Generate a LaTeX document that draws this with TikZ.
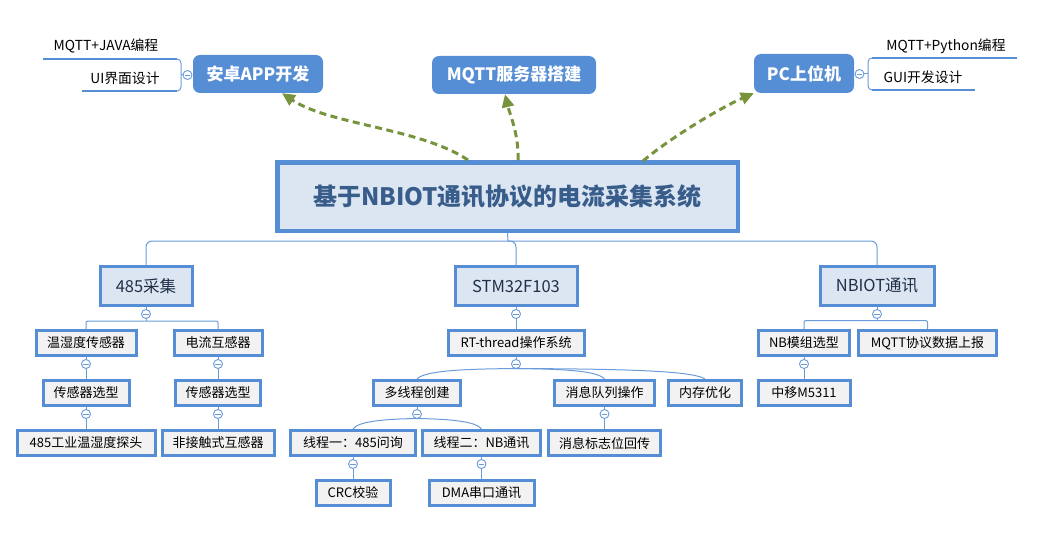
\documentclass[tikz,border=0pt]{standalone}
\usepackage{fontspec}
\setmainfont{Noto Sans CJK SC}
\usetikzlibrary{arrows.meta,calc}
\definecolor{frame}{HTML}{558ED5}
\definecolor{linkblue}{HTML}{6A9BDA}
\definecolor{topicfill}{HTML}{DCE6F2}
\definecolor{leaffill}{HTML}{F2F2F2}
\definecolor{topictext}{HTML}{385D8A}
\definecolor{maintext}{HTML}{1F2F46}
\definecolor{flowgreen}{HTML}{77933C}
\begin{document}
\begin{tikzpicture}[x=1pt,y=-1pt,
  topic/.style={draw=frame, line width=4.5pt, fill=topicfill, text=topictext,
    font=\fontsize{24}{29}\selectfont\bfseries, inner sep=0pt,
    minimum width=460.5pt, minimum height=68.5pt},
  mainbox/.style={draw=frame, line width=3pt, fill=topicfill, text=maintext,
    font=\fontsize{16.5}{20}\selectfont, inner sep=0pt, minimum height=39pt},
  leaf/.style={draw=frame, line width=3pt, fill=leaffill, text=black,
    font=\fontsize{13}{16}\selectfont, inner sep=0pt, minimum height=25pt},
  floatbox/.style={fill=frame, rounded corners=7pt, text=white,
    font=\fontsize{17}{20}\selectfont\bfseries, inner sep=0pt, minimum height=38pt},
  notetext/.style={text=black, font=\fontsize{13.8}{16}\selectfont, inner sep=0pt},
  conn/.style={draw=linkblue, line width=1pt},
  uline/.style={draw=frame, line width=2.5pt},
  coll/.style={circle, draw=linkblue, fill=white, line width=0.9pt,
    minimum size=9pt, inner sep=0pt, outer sep=0pt,
    path picture={\draw[linkblue, line width=0.9pt]
      ([xshift=-2.6pt]path picture bounding box.center) --
      ([xshift=2.6pt]path picture bounding box.center);}},
  flow/.style={draw=flowgreen, line width=3pt, dash pattern=on 7pt off 4.5pt,
    -{Triangle[length=13pt,width=12pt]}}
]
\useasboundingbox (0,0) rectangle (1037,535);

% central topic
\node[topic] (title) at (507.5,196.5) {基于NBIOT通讯协议的电流采集系统};

% floating topics
\node[floatbox, minimum width=130pt] (app) at (258,74) {安卓APP开发};
\node[floatbox, minimum width=164pt] (mqtt) at (514,75) {MQTT服务器搭建};
\node[floatbox, minimum width=100pt, minimum height=39pt] (pc) at (804,73.5) {PC上位机};

% main branches
\node[mainbox, minimum width=92pt] (m485) at (146,286) {485采集};
\node[mainbox, minimum width=122pt] (stm) at (516,286) {STM32F103};
\node[mainbox, minimum width=114pt] (nb) at (877,286) {NBIOT通讯};

% 485 branch
\node[leaf, minimum width=100pt] (wsd) at (86,343) {温湿度传感器};
\node[leaf, minimum width=88pt] (dlh) at (218,343) {电流互感器};
\node[leaf, minimum width=86pt] (selA) at (86,393) {传感器选型};
\node[leaf, minimum width=85pt] (selB) at (218,393) {传感器选型};
\node[leaf, minimum width=138pt] (probe) at (86,443) {485工业温湿度探头};
\node[leaf, minimum width=112pt] (ct) at (218,443) {非接触式互感器};

% STM32 branch
\node[leaf, minimum width=136pt] (rtt) at (516,343) {RT-thread操作系统};
\node[leaf, minimum width=87pt] (mth) at (417,393) {多线程创建};
\node[leaf, minimum width=100pt] (mq) at (604.5,393) {消息队列操作};
\node[leaf, minimum width=73pt] (mem) at (705,393) {内存优化};
\node[leaf, minimum width=125pt] (th1) at (353,443) {线程一：485问询};
\node[leaf, minimum width=118pt] (th2) at (481.5,443) {线程二：NB通讯};
\node[leaf, minimum width=112pt] (flag) at (604.5,443) {消息标志位回传};
\node[leaf, minimum width=74pt] (crc) at (353,493) {CRC校验};
\node[leaf, minimum width=105pt] (dma) at (481.5,493) {DMA串口通讯};

% NBIOT branch
\node[leaf, minimum width=91pt] (nbsel) at (804,343) {NB模组选型};
\node[leaf, minimum width=138pt] (report) at (927.5,343) {MQTT协议数据上报};
\node[leaf, minimum width=92pt] (m5311) at (804,393) {中移M5311};

% trunk from the central topic
\coordinate (trunk) at (508,241);
\draw[conn] (title.south) -- (trunk);
\draw[conn, rounded corners=6pt] (m485.north) |- (trunk) -| (nb.north);
\draw[conn, rounded corners=6pt] (trunk) -| (stm.north);

% collapse markers
\node[coll] (c485) at (146,314) {};
\node[coll] (cstm) at (516,314) {};
\node[coll] (cnb) at (877,314) {};
\node[coll] (cwsd) at (86,364) {};
\node[coll] (cdlh) at (218,364) {};
\node[coll] (cselA) at (86,414) {};
\node[coll] (cselB) at (218,414) {};
\node[coll] (crtt) at (516,364) {};
\node[coll] (cmth) at (417,414) {};
\node[coll] (cmq) at (604.5,414) {};
\node[coll] (cth1) at (353,464) {};
\node[coll] (cth2) at (481.5,464) {};
\node[coll] (cnbsel) at (804,364) {};
\node[coll] (capp) at (187.5,75) {};
\node[coll] (cpc) at (859.5,74) {};

% 485 branch connectors
\draw[conn] (m485.south) -- (c485.north);
\draw[conn] (c485.south) -- ++(0,2.5) coordinate (b485);
\draw[conn, rounded corners=2pt] (wsd.north) |- (b485) -| (dlh.north);
\draw[conn] (wsd.south) -- (cwsd.north);
\draw[conn] (cwsd.south) -- (selA.north);
\draw[conn] (dlh.south) -- (cdlh.north);
\draw[conn] (cdlh.south) -- (selB.north);
\draw[conn] (selA.south) -- (cselA.north);
\draw[conn] (cselA.south) -- (probe.north);
\draw[conn] (selB.south) -- (cselB.north);
\draw[conn] (cselB.south) -- (ct.north);

% STM32 branch connectors
\draw[conn] (stm.south) -- (cstm.north);
\draw[conn] (cstm.south) -- (rtt.north);
\draw[conn] (rtt.south) -- (crtt.north);
\draw[conn] (crtt.south) .. controls (470,369) and (425,370) .. (mth.north);
\draw[conn] (crtt.south) .. controls (565,369) and (598,371) .. (mq.north);
\draw[conn] (crtt.south) .. controls (610,369) and (692,370) .. (mem.north);
\draw[conn] (mth.south) -- (cmth.north);
\draw[conn] (cmth.south) .. controls (387,419) and (358,421) .. (th1.north);
\draw[conn] (cmth.south) .. controls (447,419) and (476,421) .. (th2.north);
\draw[conn] (mq.south) -- (cmq.north);
\draw[conn] (cmq.south) -- (flag.north);
\draw[conn] (th1.south) -- (cth1.north);
\draw[conn] (cth1.south) -- (crc.north);
\draw[conn] (th2.south) -- (cth2.north);
\draw[conn] (cth2.south) -- (dma.north);

% NBIOT branch connectors
\draw[conn] (nb.south) -- (cnb.north);
\draw[conn] (cnb.south) -- ++(0,2) coordinate (bnb);
\draw[conn, rounded corners=2pt] (nbsel.north) |- (bnb) -| (report.north);
\draw[conn] (nbsel.south) -- (cnbsel.north);
\draw[conn] (cnbsel.south) -- (m5311.north);

% notes beside the Android app topic
\node[notetext] (java) at (106,46) {MQTT+JAVA编程};
\node[notetext] (ui) at (125,78) {UI界面设计};
\coordinate (javaL) at (43,59);
\coordinate (javaR) at (177,59);
\coordinate (uiL) at (82,91);
\coordinate (uiR) at (177,91);
\draw[uline] (javaL) -- (javaR);
\draw[uline] (uiL) -- (uiR);
\draw[conn, rounded corners=4pt] (javaR) -- (181,59) -- (181,91) -- (uiR);
\draw[conn] (capp.west) -- (181,75);

% notes beside the PC topic
\node[notetext] (py) at (946,46) {MQTT+Python编程};
\node[notetext] (gui) at (923,77) {GUI开发设计};
\coordinate (pyL) at (872,58);
\coordinate (pyR) at (1017,58);
\coordinate (guiL) at (872,90);
\coordinate (guiR) at (975,90);
\draw[uline] (pyL) -- (pyR);
\draw[uline] (guiL) -- (guiR);
\draw[conn, rounded corners=4pt] (pyL) -- (868,58) -- (868,90) -- (guiL);
\draw[conn] (cpc.east) -- (868,74);

% relations from the central topic
\coordinate (f1) at (468,160);
\coordinate (f2) at (518,160);
\coordinate (f3) at (643,161);
\draw[flow] (f1) .. controls (420,128) and (330,125) .. (app.south -| 282,0);
\draw[flow] (f2) .. controls (519,135) and (510,115) .. (mqtt.south -| 505,0);
\draw[flow] (f3) .. controls (670,138) and (720,108) .. (pc.south west);
\end{tikzpicture}
\end{document}
